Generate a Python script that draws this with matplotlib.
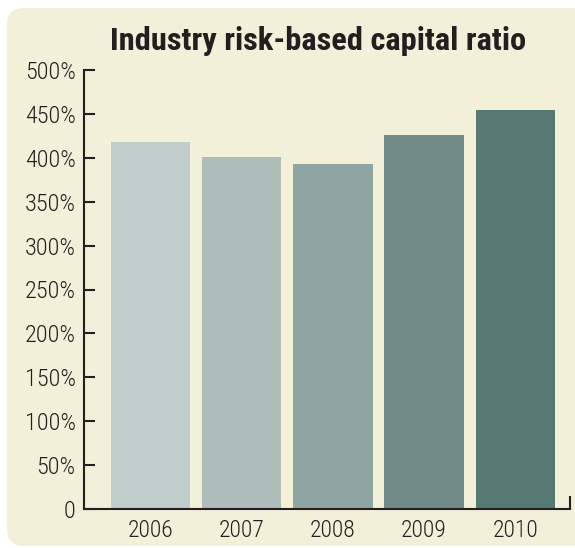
import matplotlib
matplotlib.use("Agg")
import matplotlib.pyplot as plt
from matplotlib.patches import FancyBboxPatch

years = ["2006", "2007", "2008", "2009", "2010"]
ratio = [418, 401, 393, 426, 454]
bar_colors = ["#C0CDCA", "#AEBDBA", "#8FA5A1", "#718C88", "#567A73"]
y_ticks = [0, 50, 100, 150, 200, 250, 300, 350, 400, 450, 500]
y_labels = ["0"] + ["{}%".format(v) for v in y_ticks[1:]]

bg = "#F3F0DA"
ink = "#231F20"
plt.rcParams["font.family"] = ["Roboto Condensed", "DejaVu Sans"]

fig = plt.figure(figsize=(5.75, 5.48), dpi=100)
fig.patch.set_facecolor("white")

# cream rounded panel behind everything (runs off the right edge)
panel = FancyBboxPatch((7 / 575, 2 / 548), 1.1, 538 / 548,
                       boxstyle="round,pad=0,rounding_size=0.03",
                       transform=fig.transFigure, facecolor=bg,
                       edgecolor="none", zorder=-5)
fig.patches.append(panel)

ax = fig.add_axes([84 / 575, 39 / 548, 486 / 575, 439 / 548])
ax.set_facecolor("none")

x = range(len(years))
ax.bar(x, ratio, width=0.87, color=bar_colors, zorder=2)

ax.set_xlim(-0.73, 4.6)
ax.set_ylim(0, 500)

ax.set_yticks(y_ticks)
ax.set_yticklabels(y_labels, fontsize=17.5, color=ink, fontweight="light")
ax.set_xticks(list(x))
ax.set_xticklabels(years, fontsize=17, color=ink, fontweight="light")

ax.tick_params(axis="y", direction="in", length=8, width=1.5, color=ink, pad=6)
ax.tick_params(axis="x", length=0, pad=7)

ax.spines["top"].set_visible(False)
for side in ["left", "bottom", "right"]:
    ax.spines[side].set_linewidth(1.5)
    ax.spines[side].set_color(ink)
ax.spines["right"].set_bounds(0, 14)

fig.text(318 / 575, 1 - 41 / 548, "Industry risk-based capital ratio",
         fontsize=23.4, fontweight="bold", color=ink, ha="center", va="center")

fig.savefig("out.png", dpi=100, facecolor=fig.get_facecolor())
